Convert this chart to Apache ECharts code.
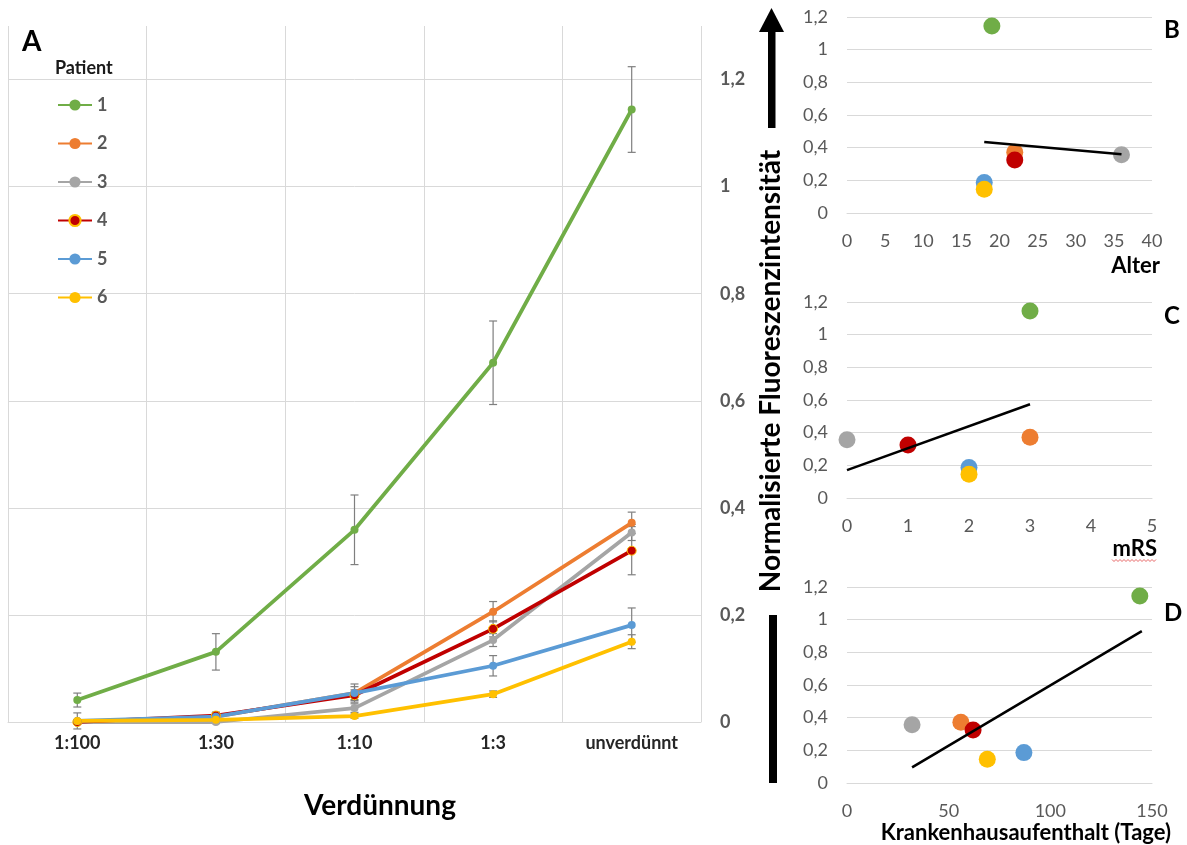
<!DOCTYPE html>
<html><head><meta charset="utf-8">
<script src="https://cdn.jsdelivr.net/npm/echarts@6/dist/echarts.min.js"></script>
<style>html,body{margin:0;padding:0;background:#fff}#c{width:1187px;height:845px}</style>
</head><body><div id="c"></div>
<script>
// ---- data ----
const categories = ['1:100', '1:30', '1:10', '1:3', 'unverdünnt'];
const patients = ['1', '2', '3', '4', '5', '6'];
const colors = ['#70AD47', '#ED7D31', '#A5A5A5', '#C00000', '#5B9BD5', '#FFC000'];
const p1 = [0.041, 0.131, 0.359, 0.671, 1.144];
const p2 = [0.0, 0.010, 0.054, 0.206, 0.372];
const p3 = [0.0, 0.0, 0.026, 0.153, 0.354];
const p4 = [0.0, 0.012, 0.050, 0.174, 0.320];
const p5 = [0.002, 0.010, 0.054, 0.105, 0.181];
const p6 = [0.002, 0.004, 0.011, 0.052, 0.150];
const e1 = [0.013, 0.034, 0.065, 0.078, 0.080];
const e2 = [0.004, 0.008, 0.012, 0.019, 0.020];
const e3 = [0.002, 0.003, 0.008, 0.012, 0.015];
const e4 = [0.004, 0.006, 0.010, 0.015, 0.045];
const e5 = [0.015, 0.008, 0.017, 0.019, 0.032];
const e6 = [0.002, 0.003, 0.004, 0.006, 0.013];
// panels B-D
const fluor = [1.145, 0.372, 0.356, 0.325, 0.186, 0.145];
const alter = [19, 22, 36, 22, 18, 18];
const mrs = [3, 3, 0, 1, 2, 2];
const stay = [144, 56, 32, 62, 87, 69];
const trendB = [[18, 0.435], [36, 0.36]];
const trendC = [[0, 0.171], [3, 0.574]];
const trendD = [[32, 0.096], [145, 0.93]];

const values = [p1, p2, p3, p4, p5, p6];
const errs = [e1, e2, e3, e4, e5, e6];
const FONT = 'Lato, "Open Sans", sans-serif';
const comma = v => String(Math.round(v * 10) / 10).replace('.', ',');

const chart = echarts.init(document.getElementById('c'), null, {renderer: 'canvas'});

const grids = [
  {left: 8, right: 486, top: 26, bottom: 123},
  {left: 847, right: 35, top: 17, bottom: 632},
  {left: 847, right: 35, top: 302, bottom: 347},
  {left: 847, right: 35, top: 587, bottom: 62}
];

const xAxis = [
  {type: 'category', gridIndex: 0, data: categories, boundaryGap: true,
   axisLine: {lineStyle: {color: '#d9d9d9', width: 1}}, axisTick: {show: false},
   axisLabel: {color: '#262626', fontWeight: 'bold', fontSize: 18, fontFamily: FONT, margin: 12},
   splitLine: {show: true, lineStyle: {color: '#d9d9d9', width: 1}}}
];
const yAxis = [
  {type: 'value', gridIndex: 0, position: 'right', min: 0, max: 1.3, interval: 0.2,
   axisLine: {show: false}, axisTick: {show: false},
   axisLabel: {color: '#595959', fontWeight: 'bold', fontSize: 18, fontFamily: FONT, margin: 19,
     align: 'left', showMaxLabel: false, formatter: comma},
   splitLine: {show: true, showMaxLine: false, lineStyle: {color: '#d9d9d9', width: 1}}}
];
const panelX = [[0, 40, 5], [0, 5, 1], [0, 150, 50]];
panelX.forEach((p, i) => {
  xAxis.push({type: 'value', gridIndex: i + 1, min: p[0], max: p[1], interval: p[2],
    axisLine: {show: true, onZero: false, lineStyle: {color: '#d9d9d9'}}, axisTick: {show: false},
    splitLine: {show: false},
    axisLabel: {color: '#595959', fontSize: 18, fontFamily: FONT, margin: 19}});
  yAxis.push({type: 'value', gridIndex: i + 1, min: 0, max: 1.2, interval: 0.2,
    axisLine: {show: false}, axisTick: {show: false},
    splitLine: {show: true, lineStyle: {color: '#d9d9d9'}},
    axisLabel: {color: '#595959', fontSize: 18, fontFamily: FONT, margin: 19, formatter: comma}});
});

const series = [];
// error bars (below lines)
values.forEach((vals, s) => {
  series.push({
    type: 'custom', xAxisIndex: 0, yAxisIndex: 0, z: 1, silent: true,
    data: vals.map((v, i) => [i, v, errs[s][i]]),
    renderItem: (params, api) => {
      const x = api.value(0), v = api.value(1), e = api.value(2);
      const top = api.coord([x, v + e]);
      const bot = api.coord([x, v - e]);
      const st = {stroke: '#7f7f7f', lineWidth: 1.2};
      return {type: 'group', children: [
        {type: 'line', shape: {x1: top[0], y1: top[1], x2: bot[0], y2: bot[1]}, style: st},
        {type: 'line', shape: {x1: top[0] - 4, y1: top[1], x2: top[0] + 4, y2: top[1]}, style: st},
        {type: 'line', shape: {x1: bot[0] - 4, y1: bot[1], x2: bot[0] + 4, y2: bot[1]}, style: st}
      ]};
    }
  });
});
values.forEach((vals, s) => {
  const isRed = s === 3;
  series.push({
    type: 'line', name: patients[s], xAxisIndex: 0, yAxisIndex: 0, z: 3,
    data: vals, symbol: 'circle', symbolSize: isRed ? 9 : 8, showSymbol: true,
    lineStyle: {color: colors[s], width: 3.75},
    itemStyle: {color: colors[s], borderColor: isRed ? '#FFC000' : colors[s], borderWidth: isRed ? 1 : 0},
    emphasis: {disabled: true}
  });
});
const panelXs = [alter, mrs, stay];
const trends = [trendB, trendC, trendD];
panelXs.forEach((xs, p) => {
  series.push({
    type: 'scatter', xAxisIndex: p + 1, yAxisIndex: p + 1, symbolSize: 17, z: 3,
    data: xs.map((x, i) => ({value: [x, fluor[i]], itemStyle: {color: colors[i], opacity: 1}}))
  });
  series.push({
    type: 'line', xAxisIndex: p + 1, yAxisIndex: p + 1, z: 4, showSymbol: false, symbol: 'none',
    data: trends[p], lineStyle: {color: '#000', width: 2.5}
  });
});

const txt = (x, y, text, size, extra) => ({
  type: 'text', x: x, y: y, silent: true,
  style: Object.assign({text: text, font: 'bold ' + size + 'px ' + FONT, fill: '#000',
    textAlign: 'left', textVerticalAlign: 'middle'}, extra || {})
});

const graphic = [
  txt(22, 42, 'A', 28),
  txt(55, 68, 'Patient', 18, {fill: '#1a1a1a'}),
  txt(380, 806, 'Verdünnung', 28, {textAlign: 'center'}),
  txt(1164, 30, 'B', 24),
  txt(1164, 316, 'C', 24),
  txt(1164, 613, 'D', 24),
  txt(1160, 266, 'Alter', 22, {textAlign: 'right'}),
  txt(1157, 549, 'mRS', 22, {textAlign: 'right'}),
  txt(1171, 833, 'Krankenhausaufenthalt (Tage)', 22, {textAlign: 'right'}),
  {type: 'text', x: 771, y: 371, rotation: Math.PI / 2, silent: true,
   style: {text: 'Normalisierte Fluoreszenzintensität', font: 'bold 28px ' + FONT, fill: '#000',
     textAlign: 'center', textVerticalAlign: 'middle'}},
  {type: 'polygon', silent: true, shape: {points: [[771.5, 8], [759, 32], [784, 32]]}, style: {fill: '#000'}},
  {type: 'rect', silent: true, shape: {x: 768, y: 31, width: 7.5, height: 97}, style: {fill: '#000'}},
  {type: 'rect', silent: true, shape: {x: 769, y: 615, width: 8, height: 168}, style: {fill: '#000'}},
  {type: 'polyline', silent: true, shape: {points: (() => { const pts = []; for (let i = 0; i <= 22; i++) pts.push([1112 + i * 2, 560 + (i % 2 ? 1.5 : -0.5)]); return pts; })()},
   style: {stroke: '#e04040', lineWidth: 0.8, fill: null}}
];

chart.setOption({
  animation: false,
  backgroundColor: '#fff',
  textStyle: {fontFamily: FONT},
  grid: grids,
  xAxis: xAxis,
  yAxis: yAxis,
  legend: {
    data: patients, orient: 'vertical', left: 52, top: 91,
    itemWidth: 34, itemHeight: 14, itemGap: 20.5, selectedMode: false,
    textStyle: {color: '#595959', fontWeight: 'bold', fontSize: 18, fontFamily: FONT}
  },
  series: series,
  graphic: graphic
});
</script>
</body></html>
